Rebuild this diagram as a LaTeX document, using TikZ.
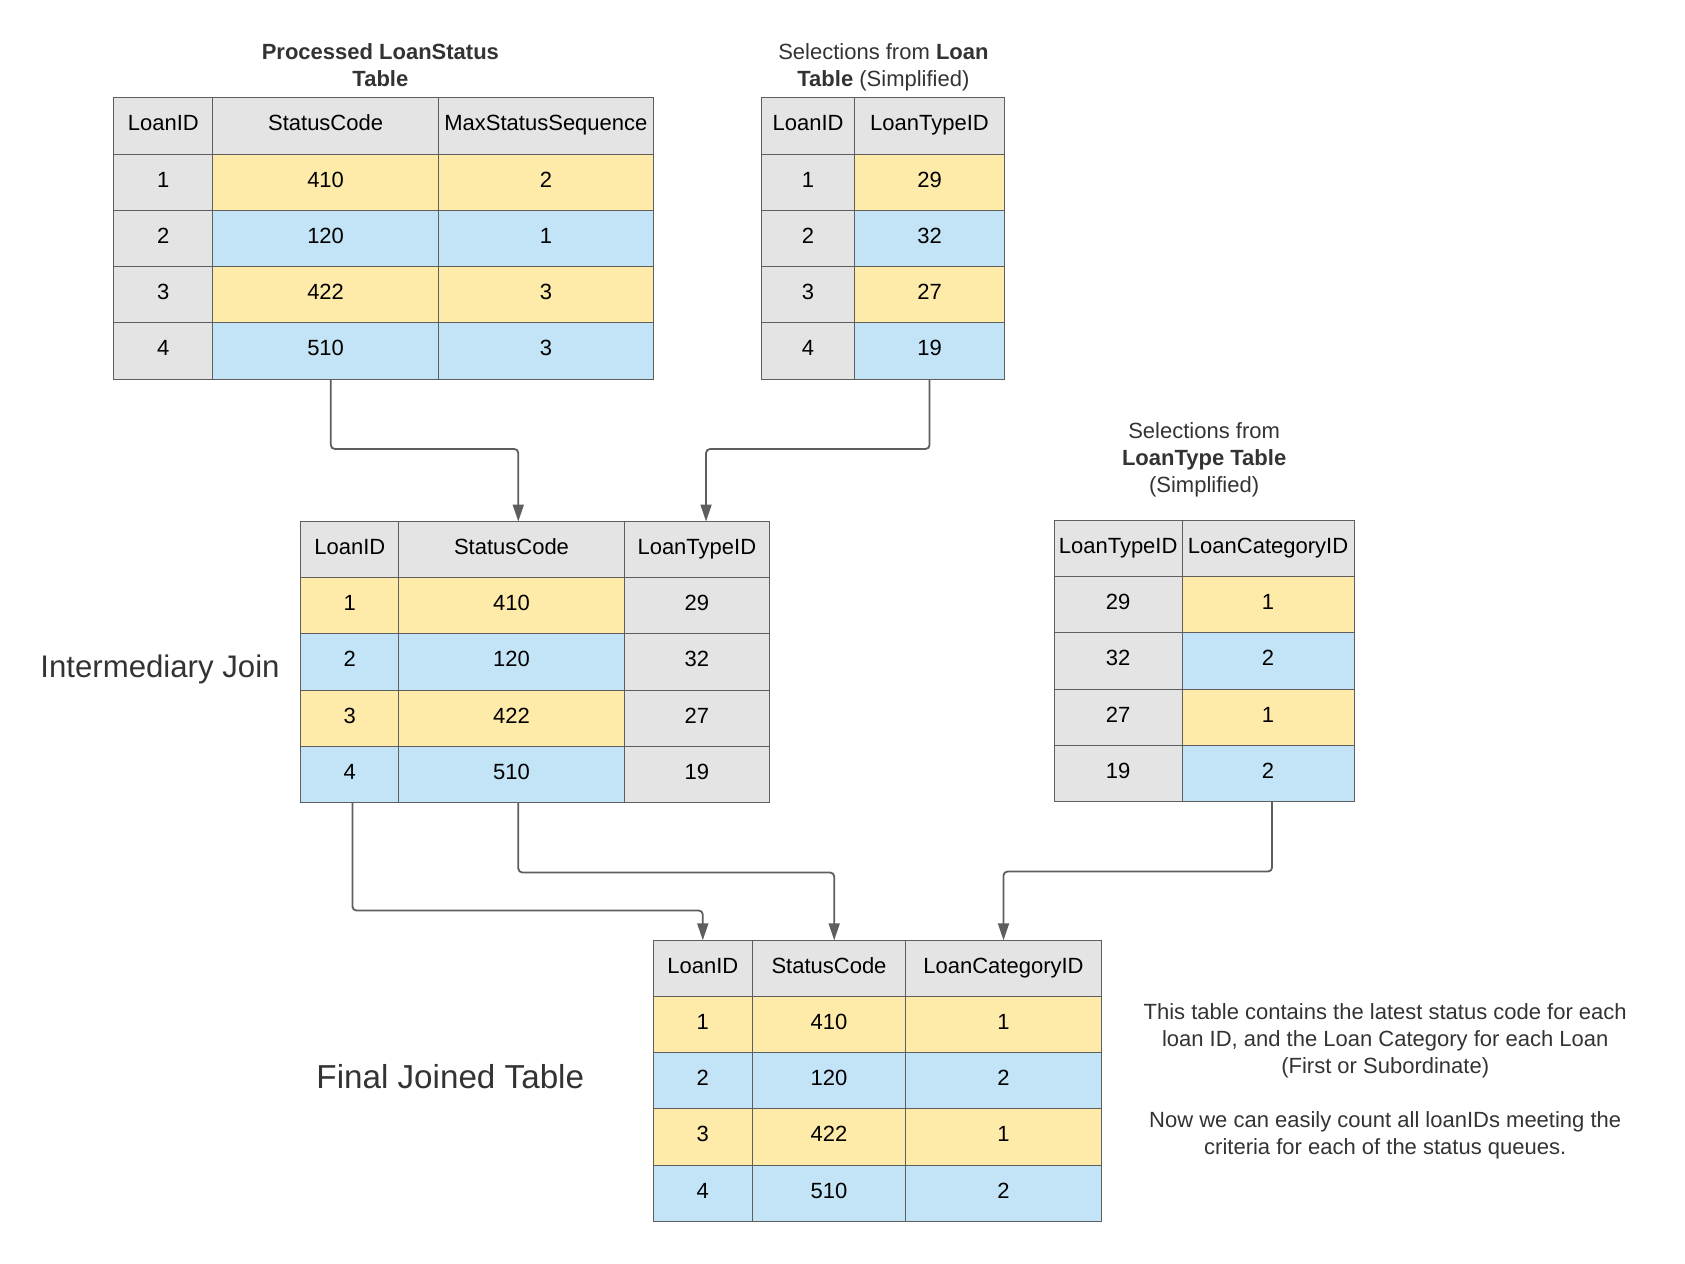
\documentclass[tikz,border=0pt]{standalone}
\usepackage{fontspec}
\setmainfont{Liberation Sans}
\usepackage{tikz}
\usetikzlibrary{arrows.meta, positioning}
\definecolor{hdr}{HTML}{E4E4E4}
\definecolor{ylw}{HTML}{FFEBA9}
\definecolor{blu}{HTML}{C3E4F6}
\definecolor{linegray}{HTML}{5E5E5E}
\definecolor{ink}{HTML}{333333}

\begin{document}
\begin{tikzpicture}[
				x=0.5pt, y=-0.5pt,
				>={Triangle[length=8.5pt, width=5.5pt]},
				every node/.style={font=\fontsize{11}{13.5}\selectfont},
				cell/.style={draw=linegray, line width=0.5pt, anchor=north west, inner sep=0pt, outer sep=0pt, minimum height=28.1pt, text height=7.9pt, text depth=3pt},
				caption/.style={text=ink, align=center},
				bigcaption/.style={text=ink},
				link/.style={->, draw=linegray, line width=0.9pt, rounded corners=2pt}]

			\useasboundingbox (0,0) rectangle (1685,1263);

			% Processed LoanStatus table
			\foreach \r/\id/\code/\seq/\tone in {0/LoanID/StatusCode/MaxStatusSequence/hdr, 1/1/410/2/ylw, 2/2/120/1/blu, 3/3/422/3/ylw, 4/4/510/3/blu} {
				\node[cell, fill=hdr, minimum width=49.45pt] (ls-\r-1) at (113.9, 98+56.2*\r) {\id};
				\node[cell, fill=\tone, minimum width=112.8pt, right=0pt of ls-\r-1] (ls-\r-2) {\code};
				\node[cell, fill=\tone, minimum width=107.5pt, right=0pt of ls-\r-2] (ls-\r-3) {\seq};
			}
			\node[caption] (ls-title) at (380.4, 65) {\textbf{Processed LoanStatus}\\\textbf{Table}};

			% Loan table
			\foreach \r/\id/\type/\tone in {0/LoanID/LoanTypeID/hdr, 1/1/29/ylw, 2/2/32/blu, 3/3/27/ylw, 4/4/19/blu} {
				\node[cell, fill=hdr, minimum width=46.2pt] (ln-\r-1) at (761.9, 98+56.2*\r) {\id};
				\node[cell, fill=\tone, minimum width=75.25pt, right=0pt of ln-\r-1] (ln-\r-2) {\type};
			}
			\node[caption] (ln-title) at (883.4, 67.2) {Selections from \textbf{Loan}\\\textbf{Table} (Simplified)};

			% Intermediary join
			\foreach \r/\id/\code/\type/\tone in {0/LoanID/StatusCode/LoanTypeID/hdr, 1/1/410/29/ylw, 2/2/120/32/blu, 3/3/422/27/ylw, 4/4/510/19/blu} {
				\node[cell, fill=\tone, minimum width=48.9pt] (jn-\r-1) at (300.9, 521.5+56.2*\r) {\id};
				\node[cell, fill=\tone, minimum width=112.8pt, right=0pt of jn-\r-1] (jn-\r-2) {\code};
				\node[cell, fill=hdr, minimum width=72.55pt, right=0pt of jn-\r-2] (jn-\r-3) {\type};
			}
			\node[bigcaption, font=\fontsize{15.6}{19}\selectfont] (jn-label) at (160, 669.5) {Intermediary Join};

			% LoanType table
			\foreach \r/\type/\cat/\tone in {0/LoanTypeID/LoanCategoryID/hdr, 1/29/1/ylw, 2/32/2/blu, 3/27/1/ylw, 4/19/2/blu} {
				\node[cell, fill=hdr, minimum width=63.95pt] (tp-\r-1) at (1054.2, 520.5+56.2*\r) {\type};
				\node[cell, fill=\tone, minimum width=85.95pt, right=0pt of tp-\r-1] (tp-\r-2) {\cat};
			}
			\node[caption] (tp-title) at (1204.1, 460) {Selections from\\\textbf{LoanType Table}\\(Simplified)};

			% Final joined table
			\foreach \r/\id/\code/\cat/\tone in {0/LoanID/StatusCode/LoanCategoryID/hdr, 1/1/410/1/ylw, 2/2/120/2/blu, 3/3/422/1/ylw, 4/4/510/2/blu} {
				\node[cell, fill=\tone, minimum width=49.5pt] (fn-\r-1) at (653.3, 940.3+56.2*\r) {\id};
				\node[cell, fill=\tone, minimum width=76.7pt, right=0pt of fn-\r-1] (fn-\r-2) {\code};
				\node[cell, fill=\tone, minimum width=97.8pt, right=0pt of fn-\r-2] (fn-\r-3) {\cat};
			}
			\node[bigcaption, font=\fontsize{16.6}{20}\selectfont] (fn-label) at (450.3, 1076.8) {Final Joined Table};
			\node[caption] (fn-note) at (1385.2, 1081.1) {This table contains the latest status code for each\\loan ID, and the Loan Category for each Loan\\(First or Subordinate)\\[13.5pt]Now we can easily count all loanIDs meeting the\\criteria for each of the status queues.};

			% joins
			\draw[link] ([xshift=2.6pt]ls-4-2.south) -- ++(0,70) -| ([xshift=3.4pt]jn-0-2.north);
			\draw[link] (ln-4-2.south) -- ++(0,70) -| ([xshift=4.6pt]jn-0-3.north);
			\draw[link] ([xshift=1.3pt]jn-4-1.south) -- ++(0,108) -| (fn-0-1.north);
			\draw[link] ([xshift=3.4pt]jn-4-2.south) -- ++(0,70) -| ([xshift=2.6pt]fn-0-2.north);
			\draw[link] ([xshift=2pt]tp-4-2.south) -- ++(0,70) -| (fn-0-3.north);
		\end{tikzpicture}
\end{document}
